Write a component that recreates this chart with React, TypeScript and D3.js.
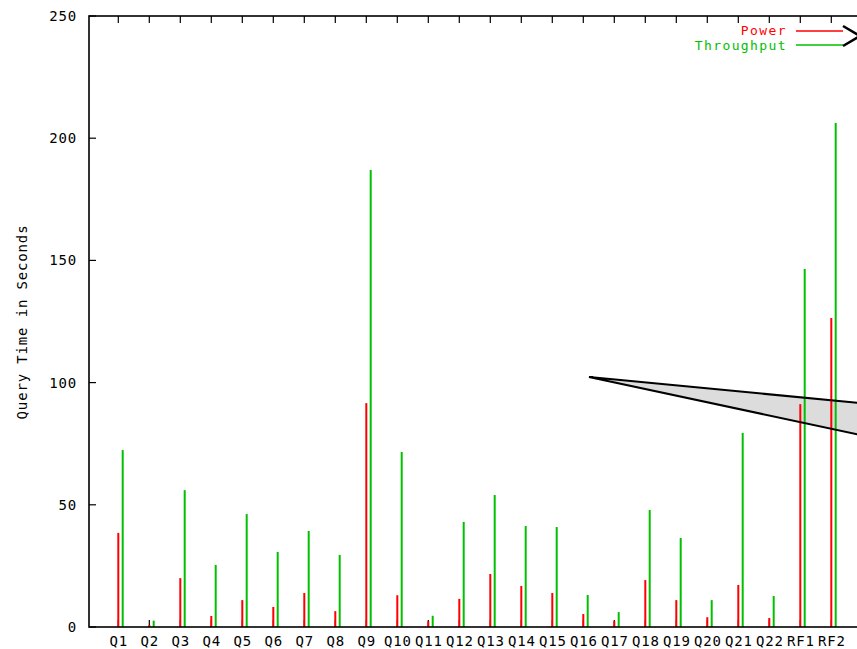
import React from "react";
import * as d3 from "d3";

const categories = ["Q1","Q2","Q3","Q4","Q5","Q6","Q7","Q8","Q9","Q10","Q11","Q12","Q13","Q14","Q15","Q16","Q17","Q18","Q19","Q20","Q21","Q22","RF1","RF2"];
const powerValues = [38.5,0.8,20,4.5,11,8.2,13.9,6.5,91.6,13,2.3,11.5,21.7,16.8,13.9,5.3,2.4,19.2,11,4,17.2,3.7,91.2,126.4];
const throughputValues = [72.4,2.6,56,25.4,46.2,30.7,39.3,29.5,187,71.6,4.6,43,54,41.3,40.9,13.1,6.1,47.9,36.4,11,79.4,12.7,146.5,206.2];
const yTicks = [0,50,100,150,200,250];
const seriesNames = ["Power","Throughput"];
const seriesColors = ["#ff0000","#00c000"];

const FONT = "'DejaVu Sans Mono', monospace";

export default function App() {
  const left = 89, right = 864, top = 16, bottom = 627;
  const y = d3.scaleLinear().domain([0, 250]).range([bottom, top]);
  const x = d3.scaleLinear().domain([0, categories.length - 1]).range([118.3, 831.3]);
  const offset = 4.4;
  const tickLen = 7;
  const textStyle: React.CSSProperties = { fontFamily: FONT, fontSize: 14, letterSpacing: 0.85 };
  const legendStyle: React.CSSProperties = { fontFamily: FONT, fontSize: 13, letterSpacing: 1.4 };

  const poly = [[589, 377], [870, 404], [870, 437]];
  const polyPath = d3.line()(poly as [number, number][]) + "Z";

  return (
    <svg width={857} height={649} style={{ position: "absolute", left: 0, top: 0, background: "#fff" }}>
      <rect x={0} y={0} width={857} height={649} fill="#fff" />
      <g stroke="#000" strokeWidth={1.2}>
        {yTicks.map((t) => (
          <g key={"yt" + t}>
            <line x1={left} x2={left + tickLen} y1={y(t)} y2={y(t)} />
            <line x1={right} x2={right - tickLen} y1={y(t)} y2={y(t)} />
          </g>
        ))}
        {categories.map((c, i) => (
          <g key={"xt" + c}>
            <line x1={x(i)} x2={x(i)} y1={bottom} y2={bottom - tickLen} />
            <line x1={x(i)} x2={x(i)} y1={top} y2={top + tickLen} />
          </g>
        ))}
      </g>
      <path d={polyPath} fill="#dcdcdc" stroke="none" />
      {categories.map((c, i) => (
        <g key={"b" + c}>
          <line x1={x(i)} x2={x(i)} y1={y(0)} y2={y(powerValues[i])} stroke={seriesColors[0]} strokeWidth={2} />
          <line x1={x(i) + offset} x2={x(i) + offset} y1={y(0)} y2={y(throughputValues[i])} stroke={seriesColors[1]} strokeWidth={2} />
        </g>
      ))}
      <path d={polyPath} fill="none" stroke="#000" strokeWidth={2} />
      <rect x={left} y={top} width={right - left} height={bottom - top} fill="none" stroke="#000" strokeWidth={1.6} />
      {yTicks.map((t) => (
        <text key={"yl" + t} x={77} y={y(t)} dy="0.35em" textAnchor="end" style={textStyle} fill="#000">{t}</text>
      ))}
      {categories.map((c, i) => (
        <text key={"xl" + c} x={x(i) + 0.5} y={646} textAnchor="middle" style={textStyle} fill="#000">{c}</text>
      ))}
      <text transform="translate(27,322) rotate(-90)" textAnchor="middle" style={textStyle} fill="#000">Query Time in Seconds</text>
      {seriesNames.map((n, k) => (
        <g key={"lg" + n}>
          <text x={787} y={30 + k * 15} dy="0.35em" textAnchor="end" style={legendStyle} fill={seriesColors[k]}>{n}</text>
          <line x1={796} x2={843} y1={31 + k * 14} y2={31 + k * 14} stroke={seriesColors[k]} strokeWidth={1.5} />
        </g>
      ))}
      <polyline points="843,26 860,36 843,46" fill="none" stroke="#000" strokeWidth={2.5} />
    </svg>
  );
}
